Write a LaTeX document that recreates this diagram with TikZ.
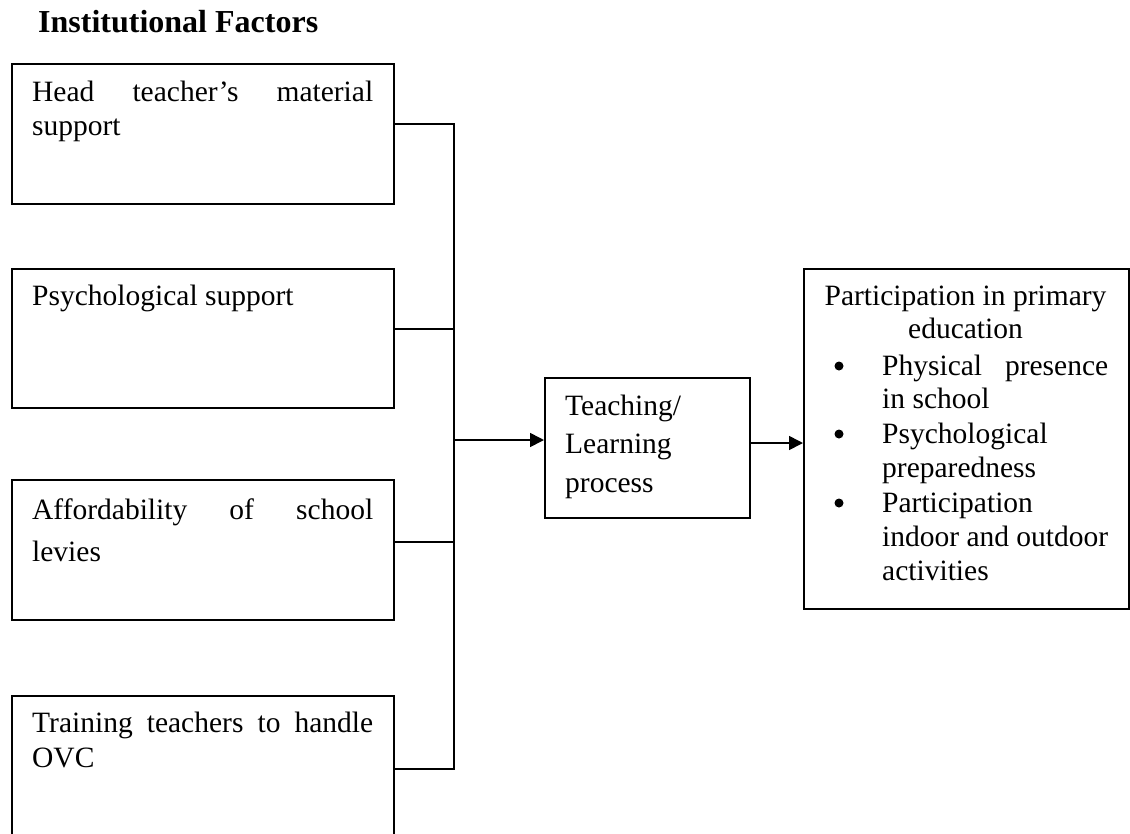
\documentclass[tikz,border=0pt]{standalone}
\usepackage{fontspec}
\setmainfont{Liberation Serif}
\usetikzlibrary{arrows.meta}
\newcommand\bodyfont[1]{\fontsize{29.5}{#1}\selectfont}
\begin{document}
\hyphenpenalty=10000 \exhyphenpenalty=10000 \tolerance=10000 \hbadness=10000 \hfuzz=50pt
\begin{tikzpicture}[x=1pt,y=-1pt,
  box/.style={draw, line width=1.6pt, inner sep=0pt, anchor=north west},
  txt/.style={inner sep=0pt, anchor=base west},
  ctxt/.style={inner sep=0pt, anchor=base},
  dot/.style={circle, fill, inner sep=0pt, minimum size=9pt},
  link/.style={line width=1.6pt},
  arr/.style={line width=1.6pt, -{Triangle[length=14pt,width=14pt]}}]
\clip (0,0) rectangle (1130,833);
% boxes
\node[box, minimum width=382pt, minimum height=140pt] (b1) at (11,63) {};
\node[box, minimum width=382pt, minimum height=139pt] (b2) at (11,268) {};
\node[box, minimum width=382pt, minimum height=140pt] (b3) at (11,479) {};
\node[box, minimum width=382pt, minimum height=170pt] (b4) at (11,695) {};
\node[box, minimum width=205pt, minimum height=140pt] (tl) at (544,377) {};
\node[box, minimum width=325pt, minimum height=340pt] (pp) at (803,268) {};
% junction points
\coordinate (j1) at (454,124);
\coordinate (j2) at (454,329);
\coordinate (j3) at (454,542);
\coordinate (j4) at (454,769);
\coordinate (j0) at (454,440);
\coordinate (o1) at (749,443);
% connectors
\draw[link] (b1.east |- j1) -- (j1) -- (j4) -- (b4.east |- j4);
\draw[link] (b2.east |- j2) -- (j2);
\draw[link] (b3.east |- j3) -- (j3);
\draw[arr] (j0) -- (tl.west |- j0);
\draw[arr] (tl.east |- o1) -- (pp.west |- o1);
% texts
\node[txt] (t0) at (38,32) {\fontsize{32}{36}\selectfont\bfseries Institutional Factors};
\node[txt] (t1) at (32,101) {\parbox[t]{341pt}{\bodyfont{34.4}Head teacher’s material\linebreak support}};
\node[txt] (t2) at (32,305) {\parbox[t]{341pt}{\bodyfont{34.4}Psychological support}};
\node[txt] (t3) at (32,519) {\parbox[t]{341pt}{\bodyfont{42}Affordability of school\linebreak levies}};
\node[txt] (t4) at (32,732) {\parbox[t]{341pt}{\bodyfont{35}Training teachers to handle\linebreak OVC}};
\node[txt] (t5) at (565,415) {\parbox[t]{180pt}{\raggedright\bodyfont{38.5}Teaching/\\Learning\\process}};
\node[ctxt] (h) at (965.5,305) {\parbox[t]{320pt}{\centering\bodyfont{33}Participation in primary\\education}};
\node[dot] (d1) at (839,366) {};
\node[dot] (d2) at (839,434) {};
\node[dot] (d3) at (839,503) {};
\node[txt] (i1) at (882,375) {\parbox[t]{226pt}{\bodyfont{33.4}Physical presence\linebreak in school}};
\node[txt] (i2) at (882,443) {\parbox[t]{226pt}{\bodyfont{34}Psychological\newline preparedness}};
\node[txt] (i3) at (882,512) {\parbox[t]{226pt}{\bodyfont{34.2}Participation\newline indoor and outdoor\newline activities}};
\end{tikzpicture}
\end{document}
